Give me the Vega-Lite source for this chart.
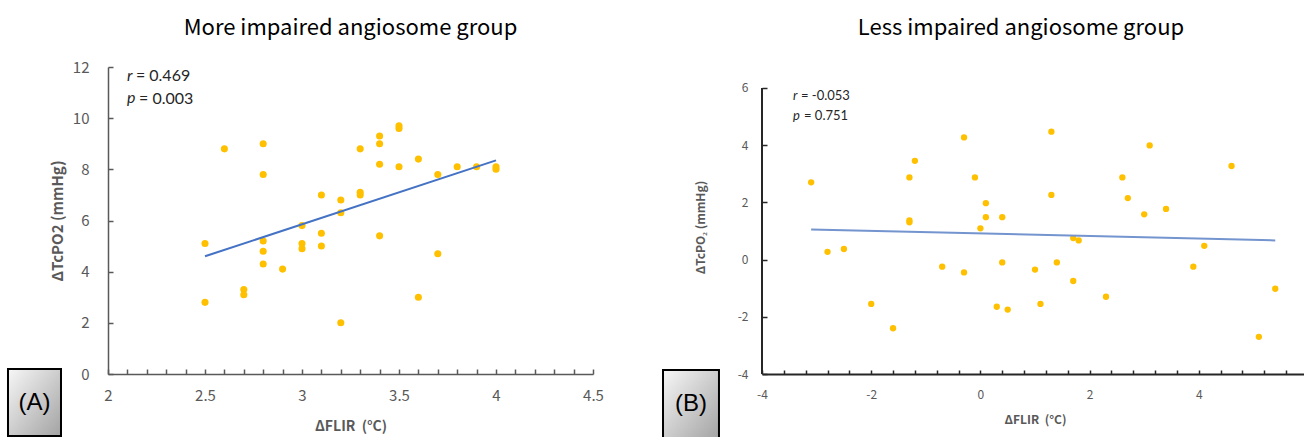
{
  "$schema": "https://vega.github.io/schema/vega-lite/v6.json",
  "background": "white",
  "padding": {"left": 6, "top": 17, "right": 0, "bottom": 0},
  "autosize": {"type": "pad"},
  "bounds": "flush",
  "spacing": 169,
  "config": {"view": {"stroke": null}, "font": "Noto Sans CJK KR"},
  "datasets": {
    "left": [
      {"x": 2.5, "y": 5.1}, {"x": 2.5, "y": 2.8}, {"x": 2.6, "y": 8.8}, {"x": 2.7, "y": 3.3}, {"x": 2.7, "y": 3.1},
      {"x": 2.8, "y": 9.0}, {"x": 2.8, "y": 7.8}, {"x": 2.8, "y": 5.2}, {"x": 2.8, "y": 4.8}, {"x": 2.8, "y": 4.3},
      {"x": 2.9, "y": 4.1}, {"x": 3.0, "y": 5.8}, {"x": 3.0, "y": 5.1}, {"x": 3.0, "y": 4.9}, {"x": 3.1, "y": 7.0},
      {"x": 3.1, "y": 5.5}, {"x": 3.1, "y": 5.0}, {"x": 3.2, "y": 6.8}, {"x": 3.2, "y": 6.3}, {"x": 3.2, "y": 2.0},
      {"x": 3.3, "y": 8.8}, {"x": 3.3, "y": 7.1}, {"x": 3.3, "y": 7.0}, {"x": 3.4, "y": 9.3}, {"x": 3.4, "y": 9.0},
      {"x": 3.4, "y": 8.2}, {"x": 3.4, "y": 5.4}, {"x": 3.5, "y": 9.7}, {"x": 3.5, "y": 9.6}, {"x": 3.5, "y": 8.1},
      {"x": 3.6, "y": 8.4}, {"x": 3.6, "y": 3.0}, {"x": 3.7, "y": 7.8}, {"x": 3.7, "y": 4.7}, {"x": 3.8, "y": 8.1},
      {"x": 3.9, "y": 8.1}, {"x": 4.0, "y": 8.1}, {"x": 4.0, "y": 8.0}
    ],
    "leftFit": [{"x": 2.5, "y": 4.6}, {"x": 4.0, "y": 8.35}],
    "right": [
      {"x": -3.1, "y": 2.7}, {"x": -2.8, "y": 0.27}, {"x": -2.5, "y": 0.37}, {"x": -2.0, "y": -1.55}, {"x": -1.6, "y": -2.4},
      {"x": -1.3, "y": 2.87}, {"x": -1.2, "y": 3.45}, {"x": -1.3, "y": 1.37}, {"x": -1.3, "y": 1.3}, {"x": -0.7, "y": -0.25},
      {"x": -0.3, "y": 4.27}, {"x": -0.3, "y": -0.45}, {"x": -0.1, "y": 2.87}, {"x": 0.0, "y": 1.09}, {"x": 0.1, "y": 1.97},
      {"x": 0.1, "y": 1.48}, {"x": 0.3, "y": -1.65}, {"x": 0.4, "y": 1.48}, {"x": 0.4, "y": -0.1}, {"x": 0.5, "y": -1.75},
      {"x": 1.0, "y": -0.35}, {"x": 1.1, "y": -1.55}, {"x": 1.3, "y": 4.47}, {"x": 1.3, "y": 2.26}, {"x": 1.4, "y": -0.1},
      {"x": 1.7, "y": 0.75}, {"x": 1.8, "y": 0.67}, {"x": 1.7, "y": -0.75}, {"x": 2.3, "y": -1.3}, {"x": 2.6, "y": 2.87},
      {"x": 2.7, "y": 2.15}, {"x": 3.0, "y": 1.58}, {"x": 3.1, "y": 3.99}, {"x": 3.4, "y": 1.77}, {"x": 3.9, "y": -0.25},
      {"x": 4.1, "y": 0.48}, {"x": 4.6, "y": 3.27}, {"x": 5.1, "y": -2.7}, {"x": 5.4, "y": -1.02}
    ],
    "rightFit": [{"x": -3.1, "y": 1.05}, {"x": 5.4, "y": 0.67}],
    "one": [{}]
  },
  "hconcat": [
    {
      "width": 485,
      "height": 307,
      "title": {"text": "More impaired angiosome group", "fontSize": 22, "fontWeight": "normal", "color": "#000000", "offset": 20, "anchor": "middle", "font": "Noto Sans CJK KR"},
      "layer": [
        {
          "data": {"name": "left"},
          "mark": {"type": "circle", "size": 50, "color": "#FFC000", "opacity": 1},
          "encoding": {
            "x": {
              "field": "x", "type": "quantitative",
              "scale": {"domain": [2, 4.5], "nice": false, "zero": false},
              "axis": {
                "values": [2, 2.1, 2.2, 2.3, 2.4, 2.5, 2.6, 2.7, 2.8, 2.9, 3, 3.1, 3.2, 3.3, 3.4, 3.5, 3.6, 3.7, 3.8, 3.9, 4, 4.1, 4.2, 4.3, 4.4, 4.5],
                "tickCount": 200,
                "labelExpr": "abs(datum.value*2 - round(datum.value*2)) < 0.001 ? toString(datum.value) : ''",
                "labelOverlap": false, "labelFlush": false, "labelBound": false,
                "grid": false, "tickSize": -5, "tickWidth": 1.5, "tickColor": "#595959",
                "domainColor": "#595959", "domainWidth": 1.5,
                "labelColor": "#595959", "labelFontSize": 15, "labelPadding": 19, "labelFont": "Noto Sans CJK KR",
                "title": "ΔFLIR\u00a0 (°C)", "titleFontSize": 14, "titleFontWeight": "bold", "titleColor": "#595959", "titlePadding": 16, "titleFont": "Noto Sans CJK KR"
              }
            },
            "y": {
              "field": "y", "type": "quantitative",
              "scale": {"domain": [0, 12], "nice": false, "zero": false},
              "axis": {
                "values": [0, 2, 4, 6, 8, 10, 12],
                "tickCount": 200,
                "labelExpr": "toString(datum.value)",
                "grid": false, "tickSize": -5, "tickWidth": 1.5, "tickColor": "#595959",
                "domainColor": "#595959", "domainWidth": 1.5,
                "labelColor": "#595959", "labelFontSize": 15, "labelPadding": 24, "labelFont": "Noto Sans CJK KR",
                "title": "ΔTcPO2 (mmHg)", "titleFontSize": 15, "titleFontWeight": "bold", "titleColor": "#595959", "titlePadding": 7, "titleFont": "Noto Sans CJK KR"
              }
            }
          }
        },
        {
          "data": {"name": "leftFit"},
          "mark": {"type": "line", "color": "#4472C4", "strokeWidth": 2},
          "encoding": {"x": {"field": "x", "type": "quantitative"}, "y": {"field": "y", "type": "quantitative"}}
        },
        {
          "data": {"name": "one"},
          "mark": {"type": "rect", "stroke": "#000000", "strokeWidth": 2, "fill": {"gradient": "linear", "x1": 0, "y1": 0, "x2": 1, "y2": 1, "stops": [{"offset": 0, "color": "#f7f7f7"}, {"offset": 1, "color": "#a3a3a3"}]}},
          "encoding": {"x": {"datum": 1.4845, "type": "quantitative"}, "x2": {"datum": 1.7577}, "y": {"datum": 0.195, "type": "quantitative"}, "y2": {"datum": -2.424}}
        },
        {
          "data": {"name": "one"},
          "mark": {"type": "text", "text": "(A)", "font": "Liberation Sans", "fontSize": 24, "color": "#000000", "align": "center", "baseline": "middle"},
          "encoding": {"x": {"datum": 1.621, "type": "quantitative"}, "y": {"datum": -1.134, "type": "quantitative"}}
        },
        {
          "data": {"name": "one"},
          "mark": {"type": "text", "text": "r", "font": "Lato", "fontStyle": "italic", "fontSize": 16, "color": "#262626", "align": "left", "baseline": "middle"},
          "encoding": {"x": {"datum": 2.098, "type": "quantitative"}, "y": {"datum": 11.63, "type": "quantitative"}}
        },
        {
          "data": {"name": "one"},
          "mark": {"type": "text", "text": "= 0.469", "font": "Lato", "fontSize": 16, "color": "#262626", "align": "left", "baseline": "middle"},
          "encoding": {"x": {"datum": 2.144, "type": "quantitative"}, "y": {"datum": 11.63, "type": "quantitative"}}
        },
        {
          "data": {"name": "one"},
          "mark": {"type": "text", "text": "p", "font": "Lato", "fontStyle": "italic", "fontSize": 16, "color": "#262626", "align": "left", "baseline": "middle"},
          "encoding": {"x": {"datum": 2.098, "type": "quantitative"}, "y": {"datum": 10.77, "type": "quantitative"}}
        },
        {
          "data": {"name": "one"},
          "mark": {"type": "text", "text": "= 0.003", "font": "Lato", "fontSize": 16, "color": "#262626", "align": "left", "baseline": "middle"},
          "encoding": {"x": {"datum": 2.16, "type": "quantitative"}, "y": {"datum": 10.75, "type": "quantitative"}}
        }
      ]
    },
    {
      "width": 546,
      "height": 307,
      "title": {"text": "Less impaired angiosome group", "fontSize": 22, "fontWeight": "normal", "color": "#000000", "offset": 27, "anchor": "middle", "dx": -14, "font": "Noto Sans CJK KR"},
      "layer": [
        {
          "data": {"name": "right"},
          "mark": {"type": "circle", "size": 40, "color": "#FFC000", "opacity": 1},
          "encoding": {
            "x": {
              "field": "x", "type": "quantitative",
              "scale": {"domain": [-4, 6], "nice": false, "zero": false},
              "axis": {
                "values": [-4, -3.6, -3.2, -2.8, -2.4, -2, -1.6, -1.2, -0.8, -0.4, 0, 0.4, 0.8, 1.2, 1.6, 2, 2.4, 2.8, 3.2, 3.6, 4, 4.4, 4.8, 5.2, 5.6, 6],
                "tickCount": 200,
                "labelExpr": "abs(datum.value/2 - round(datum.value/2)) < 0.001 ? toString(datum.value) : ''",
                "labelOverlap": false, "labelFlush": false, "labelBound": false,
                "grid": false, "tickSize": -4, "tickWidth": 1.5, "tickColor": "#262626",
                "domainColor": "#262626", "domainWidth": 2,
                "labelColor": "#595959", "labelFontSize": 12, "labelPadding": 19, "labelFont": "Noto Sans CJK KR",
                "title": "ΔFLIR\u00a0 (°C)", "titleFontSize": 12, "titleFontWeight": "bold", "titleColor": "#595959", "titlePadding": 14, "titleFont": "Noto Sans CJK KR"
              }
            },
            "y": {
              "field": "y", "type": "quantitative",
              "scale": {"domain": [-4, 6.73], "nice": false, "zero": false},
              "axis": {
                "values": [-4, -2, 0, 2, 4, 6],
                "tickCount": 200,
                "labelExpr": "toString(datum.value)",
                "domain": false,
                "grid": false, "tickSize": -5, "tickWidth": 1.5, "tickColor": "#262626",
                "labelColor": "#595959", "labelFontSize": 12, "labelPadding": 19, "labelFont": "Noto Sans CJK KR",
                "title": "ΔTcPO₂ (mmHg)", "titleFontSize": 12, "titleFontWeight": "bold", "titleColor": "#595959", "titlePadding": 30, "titleFont": "Noto Sans CJK KR", "titleY": 160
              }
            }
          }
        },
        {
          "data": {"name": "rightFit"},
          "mark": {"type": "line", "color": "#7394CE", "strokeWidth": 2},
          "encoding": {"x": {"field": "x", "type": "quantitative"}, "y": {"field": "y", "type": "quantitative"}}
        },
        {
          "data": {"name": "one"},
          "mark": {"type": "rule", "color": "#262626", "strokeWidth": 2},
          "encoding": {"x": {"datum": -4, "type": "quantitative"}, "y": {"datum": -4, "type": "quantitative"}, "y2": {"datum": 6}}
        },
        {
          "data": {"name": "one"},
          "mark": {"type": "rect", "stroke": "#000000", "strokeWidth": 2, "fill": {"gradient": "linear", "x1": 0, "y1": 0, "x2": 1, "y2": 1, "stops": [{"offset": 0, "color": "#f7f7f7"}, {"offset": 1, "color": "#a3a3a3"}]}},
          "encoding": {"x": {"datum": -5.813, "type": "quantitative"}, "x2": {"datum": -4.788}, "y": {"datum": -3.86, "type": "quantitative"}, "y2": {"datum": -6.272}}
        },
        {
          "data": {"name": "one"},
          "mark": {"type": "text", "text": "(B)", "font": "Liberation Sans", "fontSize": 24, "color": "#000000", "align": "center", "baseline": "middle"},
          "encoding": {"x": {"datum": -5.3, "type": "quantitative"}, "y": {"datum": -5.05, "type": "quantitative"}}
        },
        {
          "data": {"name": "one"},
          "mark": {"type": "text", "text": "r", "font": "Lato", "fontStyle": "italic", "fontSize": 13, "color": "#262626", "align": "left", "baseline": "middle"},
          "encoding": {"x": {"datum": -3.432, "type": "quantitative"}, "y": {"datum": 5.717, "type": "quantitative"}}
        },
        {
          "data": {"name": "one"},
          "mark": {"type": "text", "text": "= -0.053", "font": "Lato", "fontSize": 13, "color": "#262626", "align": "left", "baseline": "middle"},
          "encoding": {"x": {"datum": -3.286, "type": "quantitative"}, "y": {"datum": 5.717, "type": "quantitative"}}
        },
        {
          "data": {"name": "one"},
          "mark": {"type": "text", "text": "p", "font": "Lato", "fontStyle": "italic", "fontSize": 13, "color": "#262626", "align": "left", "baseline": "middle"},
          "encoding": {"x": {"datum": -3.432, "type": "quantitative"}, "y": {"datum": 5.018, "type": "quantitative"}}
        },
        {
          "data": {"name": "one"},
          "mark": {"type": "text", "text": "= 0.751", "font": "Lato", "fontSize": 13, "color": "#262626", "align": "left", "baseline": "middle"},
          "encoding": {"x": {"datum": -3.231, "type": "quantitative"}, "y": {"datum": 5.018, "type": "quantitative"}}
        }
      ]
    }
  ]
}
